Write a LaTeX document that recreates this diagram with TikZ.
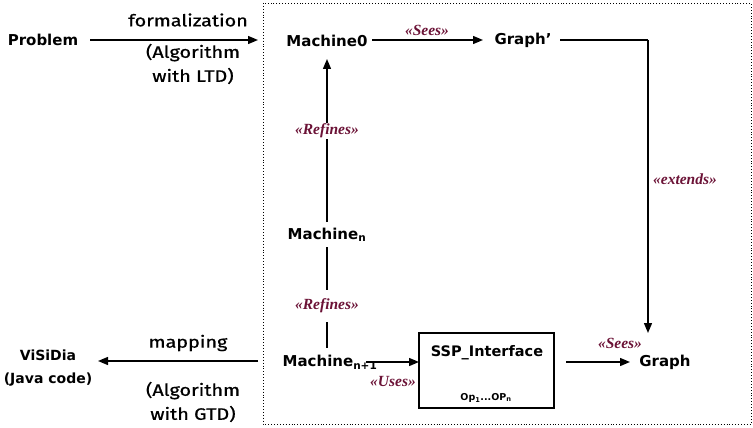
\documentclass[tikz,border=0pt]{standalone}
\usepackage{fontspec}
\setmainfont{DejaVu Sans}
\newfontfamily\labfont[FakeStretch=1.2,FakeBold=0.8]{Fira Sans}
\newfontfamily\stfont{Liberation Serif}
\usetikzlibrary{arrows.meta}
\definecolor{stcol}{HTML}{6B1236}
\tikzset{
  main/.style={font=\fontsize{15}{17}\selectfont\bfseries, inner sep=1pt},
  lab/.style={font=\labfont\fontsize{16.5}{24}\selectfont, inner sep=1pt, align=center},
  stereo/.style={font=\stfont\fontsize{15.5}{17}\selectfont\bfseries\itshape, text=stcol, inner sep=1pt},
  conn/.style={line width=1.4pt, -{Triangle[length=10pt,width=8pt]}},
  plain/.style={line width=1.4pt},
}
\begin{document}
\begin{tikzpicture}[x=1pt,y=-1pt]
\useasboundingbox (0,0) rectangle (753,428);
\draw[dotted, line width=0.9pt] (263,3) rectangle (751,424);

\node[main] (prob) at (43,40) {Problem};
\node[main] (m0) at (327,41) {Machine0};
\node[main] (gp) at (523,40) {Graph’};
\node[main] (mn) at (327,235) {Machine\textsubscript{n}};
\node[main] (mn1) at (330,362) {Machine\textsubscript{n+1}};
\node[draw, line width=1.4pt, minimum width=135pt, minimum height=75pt] (ssp) at (486.5,370.5) {};
\node[main, font=\fontsize{14.5}{17}\selectfont\bfseries] (ssptxt) at (487,353) {SSP\_Interface};
\node[font=\fontsize{9.5}{11}\selectfont\bfseries] (ops) at (486,398) {Op\textsubscript{1}...OP\textsubscript{n}};
\node[main] (gr) at (665,362) {Graph};
\node[main, align=center, font=\fontsize{14}{23}\selectfont\bfseries] (vis) at (48,368) {ViSiDia\\(Java code)};

\coordinate (fstart) at (90,40);
\coordinate (fend) at (258,40);
\draw[conn] (fstart) -- (fend);
\node[lab] (form) at (188,20) {formalization};
\node[lab] (alg1) at (193,64) {(Algorithm\\ with LTD)};

\coordinate (ms) at (258,361);
\coordinate (me) at (98,361);
\draw[conn] (ms) -- (me);
\node[lab] (map) at (188,343) {mapping};
\node[lab] (alg2) at (193,402) {(Algorithm\\ with GTD)};

\coordinate (s1) at (372,40);
\coordinate (s1e) at (483,40);
\draw[conn] (s1) -- (s1e);
\node[stereo] (sees1) at (427,30) {«Sees»};

\coordinate (gps) at (560,40);
\coordinate (corner) at (648,40);
\coordinate (ge) at (648,333);
\draw[plain] (gps) -- (corner);
\draw[conn] (corner) -- (ge);
\node[stereo] (ext) at (685,179) {«extends»};

\coordinate (mnt) at (327,222);
\coordinate (m0b) at (327,59);
\draw[conn] (mnt) -- (m0b);
\node[stereo, fill=white] (ref1) at (327,131) {«Refines»};

\draw[plain] (327,247) -- (327,290);
\draw[plain] (327,322) -- (327,348);
\node[stereo] (ref2) at (327,306) {«Refines»};

\coordinate (us) at (366,362);
\coordinate (ue) at (419,362);
\draw[conn] (us) -- (ue);
\node[stereo] (uses) at (393,381) {«Uses»};

\coordinate (ss) at (566,362);
\coordinate (se) at (630,362);
\draw[conn] (ss) -- (se);
\node[stereo] (sees2) at (620,343) {«Sees»};
\end{tikzpicture}
\end{document}
